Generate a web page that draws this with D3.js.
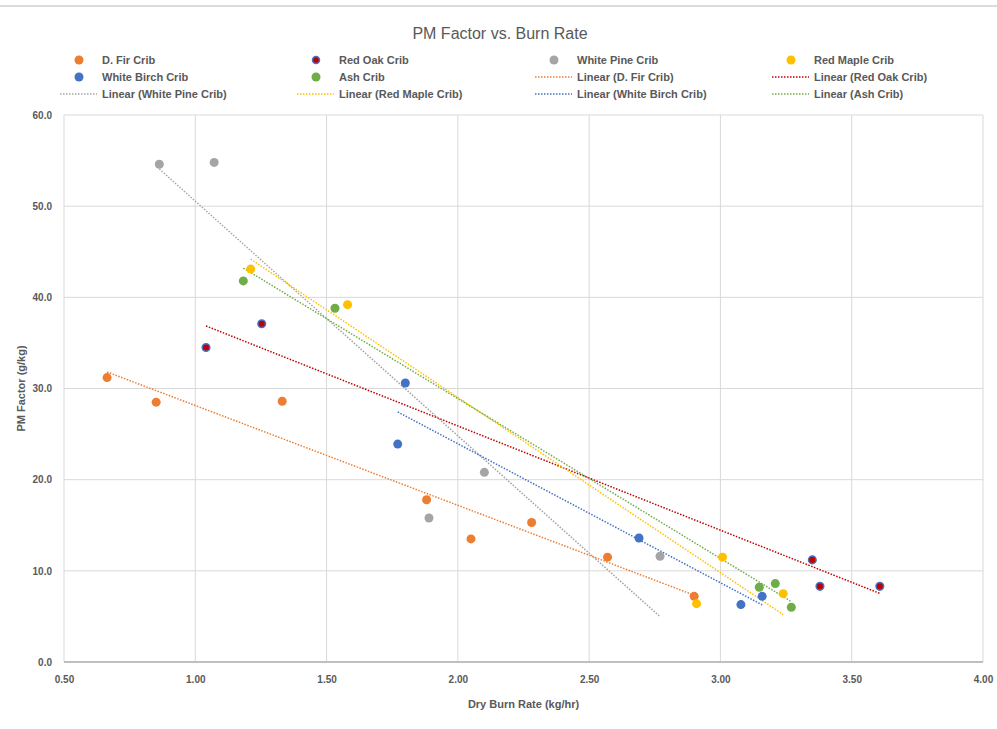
<!DOCTYPE html>
<html>
<head>
<meta charset="utf-8">
<script src="https://cdn.jsdelivr.net/npm/d3@7"></script>
<style>
body { margin: 0; background: #fff; }
text { font-family: "Liberation Sans", Arial, sans-serif; fill: #595959; }
</style>
</head>
<body>
<div id="chart"></div>
<script>
var seriesNames = ["D. Fir Crib", "Red Oak Crib", "White Pine Crib", "Red Maple Crib", "White Birch Crib", "Ash Crib"];
var seriesColors = ["#ED7D31", "#C00000", "#A5A5A5", "#FFC000", "#4472C4", "#70AD47"];

var firX = [0.664, 0.851, 1.331, 1.881, 2.050, 2.281, 2.570, 2.900];
var firY = [31.2, 28.5, 28.6, 17.8, 13.5, 15.3, 11.5, 7.2];
var oakX = [1.041, 1.253, 3.350, 3.379, 3.607];
var oakY = [34.5, 37.1, 11.2, 8.3, 8.3];
var pineX = [0.863, 1.072, 2.101, 1.890, 2.770];
var pineY = [54.6, 54.8, 20.8, 15.8, 11.6];
var mapleX = [1.211, 1.580, 3.008, 2.909, 3.239];
var mapleY = [43.1, 39.2, 11.5, 6.4, 7.5];
var birchX = [1.800, 1.771, 2.690, 3.078, 3.159];
var birchY = [30.6, 23.9, 13.6, 6.3, 7.2];
var ashX = [1.183, 1.532, 3.148, 3.209, 3.270];
var ashY = [41.8, 38.8, 8.2, 8.6, 6.0];

var xTicks = [0.5, 1.0, 1.5, 2.0, 2.5, 3.0, 3.5, 4.0];
var yTicks = [0, 10, 20, 30, 40, 50, 60];

var allX = [firX, oakX, pineX, mapleX, birchX, ashX];
var allY = [firY, oakY, pineY, mapleY, birchY, ashY];

var width = 997;
var height = 729;
var plotLeft = 64, plotRight = 983, plotTop = 115, plotBottom = 662;

var svg = d3.select("#chart").append("svg")
  .attr("width", width).attr("height", height);

// top shadow border
svg.append("line")
  .attr("x1", 0).attr("x2", width).attr("y1", 6).attr("y2", 6)
  .attr("stroke", "#dcdcdc").attr("stroke-width", 2);

var x = d3.scaleLinear().domain([0.5, 4.0]).range([plotLeft, plotRight]);
var y = d3.scaleLinear().domain([0, 60]).range([plotBottom, plotTop]);

// gridlines
svg.append("g").selectAll("line").data(xTicks).enter().append("line")
  .attr("x1", function(d){ return x(d); }).attr("x2", function(d){ return x(d); })
  .attr("y1", plotTop).attr("y2", plotBottom)
  .attr("stroke", "#d9d9d9").attr("stroke-width", 1);
svg.append("g").selectAll("line").data(yTicks).enter().append("line")
  .attr("x1", plotLeft).attr("x2", plotRight)
  .attr("y1", function(d){ return y(d); }).attr("y2", function(d){ return y(d); })
  .attr("stroke", "#d9d9d9").attr("stroke-width", 1);
svg.append("line")
  .attr("x1", plotLeft).attr("x2", plotRight).attr("y1", plotBottom).attr("y2", plotBottom)
  .attr("stroke", "#bfbfbf").attr("stroke-width", 2);

// axes
var xAxis = svg.append("g").attr("transform", "translate(0," + plotBottom + ")")
  .call(d3.axisBottom(x).tickValues(xTicks).tickFormat(d3.format(".2f")).tickSize(0).tickPadding(14));
var yAxis = svg.append("g").attr("transform", "translate(" + plotLeft + ",0)")
  .call(d3.axisLeft(y).tickValues(yTicks).tickFormat(d3.format(".1f")).tickSize(0).tickPadding(12));
[xAxis, yAxis].forEach(function(a){
  a.select(".domain").remove();
  a.selectAll("text").attr("font-size", 10).attr("font-weight", "bold")
    .attr("font-family", "Liberation Sans, Arial, sans-serif").attr("fill", "#595959");
});

// titles
svg.append("text").attr("x", 500).attr("y", 39).attr("text-anchor", "middle")
  .attr("font-size", 16).text("PM Factor vs. Burn Rate");
svg.append("text").attr("x", (plotLeft + plotRight) / 2).attr("y", 708).attr("text-anchor", "middle")
  .attr("font-size", 11).attr("font-weight", "bold").text("Dry Burn Rate (kg/hr)");
svg.append("text").attr("transform", "translate(25," + (plotTop + plotBottom) / 2 + ") rotate(-90)")
  .attr("text-anchor", "middle").attr("font-size", 11).attr("font-weight", "bold")
  .text("PM Factor (g/kg)");

function fit(xs, ys) {
  var mx = d3.mean(xs), my = d3.mean(ys);
  var sxy = d3.sum(xs, function(d, i){ return (d - mx) * (ys[i] - my); });
  var sxx = d3.sum(xs, function(d){ return (d - mx) * (d - mx); });
  var b = sxy / sxx;
  var x0 = d3.min(xs), x1 = d3.max(xs);
  return [[x0, my + b * (x0 - mx)], [x1, my + b * (x1 - mx)]];
}

var line = d3.line().x(function(d){ return x(d[0]); }).y(function(d){ return y(d[1]); });

// trendlines
allX.forEach(function(xs, i){
  svg.append("path").datum(fit(xs, allY[i]))
    .attr("d", line).attr("fill", "none")
    .attr("stroke", seriesColors[i]).attr("stroke-width", 1.5)
    .attr("stroke-dasharray", "1.5,1.5");
});

// points
allX.forEach(function(xs, i){
  svg.append("g").selectAll("circle").data(xs).enter().append("circle")
    .attr("cx", function(d){ return x(d); })
    .attr("cy", function(d, j){ return y(allY[i][j]); })
    .attr("r", i == 1 ? 3.8 : 4.5)
    .attr("fill", seriesColors[i])
    .attr("stroke", i == 1 ? "#4472C4" : "none")
    .attr("stroke-width", 1.5);
});

// legend
var legendItems = [
  {name: seriesNames[0], c: 0, type: "dot"},
  {name: seriesNames[1], c: 1, type: "dot"},
  {name: seriesNames[2], c: 2, type: "dot"},
  {name: seriesNames[3], c: 3, type: "dot"},
  {name: seriesNames[4], c: 4, type: "dot"},
  {name: seriesNames[5], c: 5, type: "dot"},
  {name: "Linear (" + seriesNames[0] + ")", c: 0, type: "line"},
  {name: "Linear (" + seriesNames[1] + ")", c: 1, type: "line"},
  {name: "Linear (" + seriesNames[2] + ")", c: 2, type: "line"},
  {name: "Linear (" + seriesNames[3] + ")", c: 3, type: "line"},
  {name: "Linear (" + seriesNames[4] + ")", c: 4, type: "line"},
  {name: "Linear (" + seriesNames[5] + ")", c: 5, type: "line"}
];
var colX = [102, 339, 577, 814];
var rowY = [60, 77, 94];

var leg = svg.append("g").selectAll("g").data(legendItems).enter().append("g")
  .attr("transform", function(d, i){ return "translate(" + colX[i % 4] + "," + rowY[Math.floor(i / 4)] + ")"; });
leg.each(function(d){
  var g = d3.select(this);
  if (d.type == "dot") {
    g.append("circle").attr("cx", -23).attr("cy", 0).attr("r", d.c == 1 ? 3.5 : 4.5)
      .attr("fill", seriesColors[d.c])
      .attr("stroke", d.c == 1 ? "#4472C4" : "none").attr("stroke-width", 1.5);
  } else {
    g.append("line").attr("x1", -42).attr("x2", -5).attr("y1", 0).attr("y2", 0)
      .attr("stroke", seriesColors[d.c]).attr("stroke-width", 1.5)
      .attr("stroke-dasharray", "1.5,1.5");
  }
  g.append("text").attr("x", 0).attr("y", 4).attr("font-size", 11)
    .attr("font-weight", "bold").text(d.name);
});
</script>
</body>
</html>
